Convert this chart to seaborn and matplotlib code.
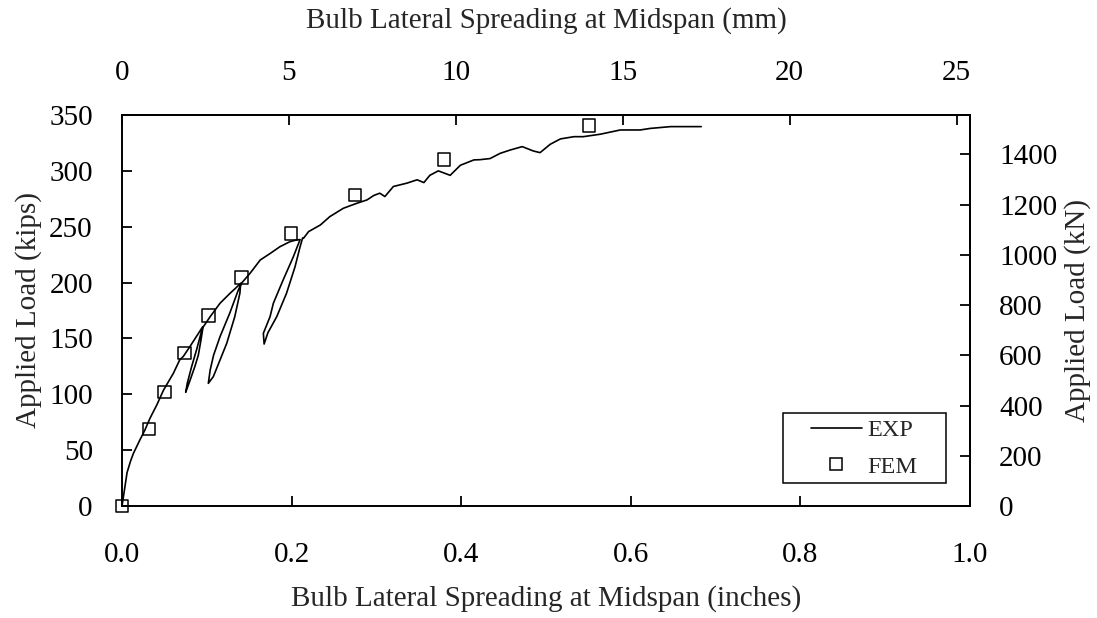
import numpy as np
import pandas as pd
import matplotlib
matplotlib.use("Agg")
import matplotlib.pyplot as plt
from matplotlib.lines import Line2D
from matplotlib.patches import Rectangle
import seaborn as sns

# ---------------- data ----------------
# EXP: measured load vs bulb lateral spreading (inches, kips), incl. unload/reload loops
exp_x = [0.000, 0.003, 0.006, 0.010, 0.0134, 0.021, 0.027, 0.033, 0.041, 0.049, 0.0606,
         0.068, 0.0724, 0.080, 0.088, 0.0952,
         0.088, 0.0822, 0.077, 0.0751, 0.080, 0.086, 0.090, 0.093, 0.0955,
         0.104, 0.1156, 0.1274, 0.134, 0.140,
         0.139, 0.133, 0.1235, 0.1077, 0.1018, 0.104, 0.108, 0.1156, 0.127, 0.137, 0.141,
         0.151, 0.163, 0.175, 0.186, 0.198, 0.205, 0.210,
         0.202, 0.190, 0.1785, 0.1746, 0.1667, 0.1676, 0.172, 0.1825, 0.194, 0.204, 0.210, 0.213,
         0.214, 0.220, 0.234, 0.245, 0.261, 0.277, 0.289, 0.297, 0.304, 0.310, 0.320, 0.336,
         0.348, 0.356, 0.363, 0.373, 0.380, 0.387, 0.399, 0.415, 0.422, 0.434, 0.446, 0.458,
         0.472, 0.485, 0.493, 0.505, 0.517, 0.533, 0.544, 0.564, 0.5876, 0.611, 0.623, 0.647, 0.683]
exp_y = [0.0, 15.0, 30.0, 40.0, 47.0, 59.0, 68.0, 78.5, 90.4, 103.8, 118.8,
         130.7, 134.0, 142.6, 152.0, 160.5,
         140.0, 125.0, 110.0, 101.8, 112.0, 125.0, 135.0, 148.0, 160.0,
         169.5, 181.5, 190.4, 195.0, 199.4,
         190.4, 169.5, 145.6, 115.8, 109.8, 121.8, 135.0, 151.6, 172.5, 193.0, 199.5,
         208.3, 220.2, 226.2, 232.0, 236.6, 238.0, 238.5,
         223.0, 202.3, 181.5, 169.5, 154.6, 145.0, 155.0, 169.5, 190.4, 214.0, 232.0, 240.0,
         239.6, 245.6, 251.6, 259.0, 266.5, 271.0, 274.0, 278.0, 280.0, 277.0, 286.0, 289.0,
         292.0, 289.5, 296.0, 300.0, 298.0, 296.0, 305.0, 309.8, 310.0, 311.0, 315.7, 318.7,
         321.7, 317.8, 316.3, 323.8, 328.6, 330.6, 330.6, 332.8, 336.6, 336.6, 338.0, 339.6, 339.6]

# FEM predictions
fem_x = [0.0, 0.032, 0.050, 0.0735, 0.102, 0.141, 0.199, 0.275, 0.380, 0.551]
fem_y = [0.0, 68.7, 102.3, 136.7, 170.4, 204.5, 244.0, 278.5, 310.0, 340.5]

x_ticks = [0.0, 0.2, 0.4, 0.6, 0.8, 1.0]
y_ticks = [0, 50, 100, 150, 200, 250, 300, 350]
mm_ticks = [0, 5, 10, 15, 20, 25]
kn_ticks = [0, 200, 400, 600, 800, 1000, 1200, 1400]

IN_TO_MM = 25.4
KIP_TO_KN = 4.448

# ---------------- style ----------------
sns.set_style("ticks")
plt.rcParams["font.family"] = ["Liberation Serif", "DejaVu Serif"]
plt.rcParams["axes.linewidth"] = 1.4

FS = 21

fig = plt.figure(figsize=(10.97, 6.18), dpi=100)
ax = fig.add_axes([122 / 1097, 1 - 506 / 618, (970 - 122) / 1097, (506 - 115) / 618])

exp_df = pd.DataFrame({"x": exp_x, "y": exp_y})
fem_df = pd.DataFrame({"x": fem_x, "y": fem_y})

sns.lineplot(data=exp_df, x="x", y="y", sort=False, estimator=None, color="black",
             linewidth=1.2, ax=ax, legend=False)
sns.scatterplot(data=fem_df, x="x", y="y", marker="s", s=80, facecolor="none",
                edgecolor="black", linewidth=1.1, ax=ax, legend=False, zorder=3,
                clip_on=False)

ax.set_xlim(0, 1.0)
ax.set_ylim(0, 350)
ax.set_xticks(x_ticks)
ax.set_xticklabels([f"{v:.1f}" for v in x_ticks])
ax.set_yticks(y_ticks)
ax.set_yticklabels([str(v) for v in y_ticks])

tick_kw = dict(direction="in", length=7, width=1.3, labelsize=FS, colors="black")
ax.tick_params(axis="x", pad=26, **tick_kw)
ax.tick_params(axis="y", pad=21, **tick_kw)

ax.set_xlabel("Bulb Lateral Spreading at Midspan (inches)", fontsize=FS, labelpad=12)
ax.set_ylabel("Applied Load (kips)", fontsize=FS, labelpad=5)

for s in ax.spines.values():
    s.set_color("black")
    s.set_linewidth(1.4)

# top axis in mm
secx = ax.secondary_xaxis("top", functions=(lambda v: v * IN_TO_MM, lambda v: v / IN_TO_MM))
secx.set_xticks(mm_ticks)
secx.set_xticklabels([str(v) for v in mm_ticks])
secx.tick_params(axis="x", pad=21, **tick_kw)
secx.set_xlabel("Bulb Lateral Spreading at Midspan (mm)", fontsize=FS, labelpad=23)

# right axis in kN
secy = ax.secondary_yaxis("right", functions=(lambda v: v * KIP_TO_KN, lambda v: v / KIP_TO_KN))
secy.set_yticks(kn_ticks)
secy.set_yticklabels([str(v) for v in kn_ticks])
secy.tick_params(axis="y", pad=21, **tick_kw)
secy.set_ylabel("Applied Load (kN)", fontsize=FS, labelpad=5)

for a in (secx, secy):
    for s in a.spines.values():
        s.set_linewidth(1.4)
        s.set_color("black")

# legend
x0, x1 = (782.7 - 122) / 848, (945.7 - 122) / 848
y0, y1 = (506 - 483.3) / 391, (506 - 413.3) / 391
ax.add_patch(Rectangle((x0, y0), x1 - x0, y1 - y0, transform=ax.transAxes,
                       facecolor="white", edgecolor="black", linewidth=1.1, zorder=4))
handles = [Line2D([], [], color="black", linewidth=1.2),
           Line2D([], [], color="black", marker="s", linestyle="none", markersize=9,
                  markerfacecolor="none", markeredgewidth=1.1)]
leg = ax.legend(handles, ["EXP", "FEM"], loc="center",
                bbox_to_anchor=((x0 + x1) / 2, (y0 + y1) / 2), frameon=False,
                fontsize=17.5, handlelength=2.1, handletextpad=0.25, labelspacing=0.6)
leg.set_zorder(5)

fig.savefig("out.png", dpi=100)
